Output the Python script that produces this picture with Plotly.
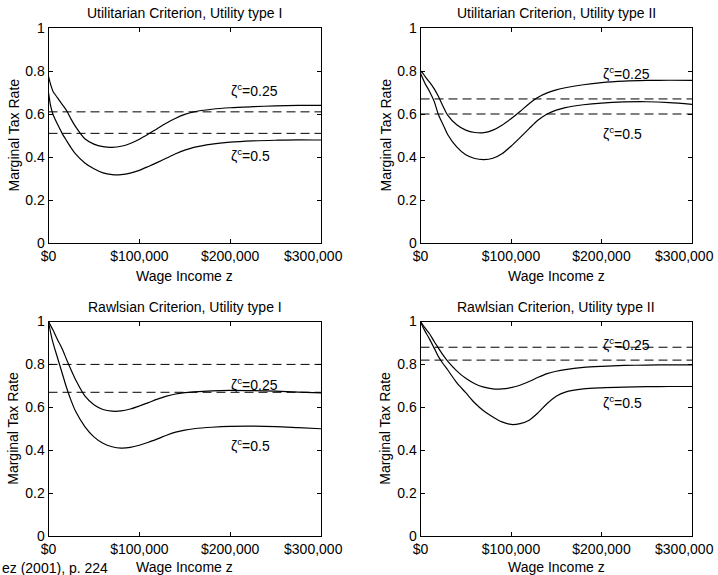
import plotly.graph_objects as go

# ---------------- data ----------------
income = [0, 2500, 5000, 10000, 15000, 20000, 25000, 30000, 40000, 50000, 60000,
          70000, 80000, 90000, 100000, 110000, 120000, 130000, 140000, 150000,
          160000, 180000, 200000, 225000, 250000, 275000, 300000]

util1_z025 = [0.775, 0.735, 0.705, 0.675, 0.645, 0.615, 0.575, 0.54, 0.485, 0.46, 0.448,
              0.445, 0.45, 0.463, 0.483, 0.507, 0.533, 0.558, 0.58, 0.598,
              0.61, 0.622, 0.629, 0.634, 0.638, 0.64, 0.64]
util1_z05 = [0.70, 0.635, 0.598, 0.552, 0.51, 0.475, 0.442, 0.413, 0.372, 0.345, 0.326,
             0.318, 0.318, 0.325, 0.338, 0.356, 0.375, 0.395, 0.415, 0.432,
             0.445, 0.46, 0.469, 0.475, 0.478, 0.48, 0.479]
util2_z025 = [0.80, 0.79, 0.775, 0.748, 0.718, 0.68, 0.635, 0.595, 0.55, 0.525, 0.514,
              0.513, 0.525, 0.548, 0.578, 0.612, 0.648, 0.678, 0.698, 0.712,
              0.722, 0.736, 0.746, 0.753, 0.756, 0.757, 0.756]
util2_z05 = [0.79, 0.765, 0.742, 0.705, 0.66, 0.595, 0.55, 0.505, 0.447, 0.41, 0.393,
             0.388, 0.394, 0.415, 0.45, 0.49, 0.532, 0.572, 0.6, 0.618,
             0.63, 0.643, 0.651, 0.656, 0.657, 0.653, 0.645]
rawl1_z025 = [1.0, 0.98, 0.96, 0.915, 0.873, 0.822, 0.773, 0.727, 0.653, 0.612, 0.59,
              0.582, 0.583, 0.592, 0.606, 0.622, 0.638, 0.652, 0.662, 0.668,
              0.672, 0.677, 0.679, 0.678, 0.675, 0.671, 0.667]
rawl1_z05 = [1.0, 0.945, 0.9, 0.83, 0.76, 0.69, 0.63, 0.58, 0.51, 0.462, 0.432,
             0.416, 0.41, 0.413, 0.423, 0.437, 0.453, 0.47, 0.484, 0.494,
             0.5, 0.507, 0.511, 0.512, 0.51, 0.505, 0.5]
rawl2_z025 = [1.0, 0.985, 0.97, 0.943, 0.908, 0.875, 0.843, 0.815, 0.77, 0.735, 0.71,
              0.694, 0.686, 0.686, 0.692, 0.703, 0.72, 0.74, 0.757, 0.768,
              0.776, 0.786, 0.791, 0.795, 0.797, 0.798, 0.798]
rawl2_z05 = [1.0, 0.975, 0.955, 0.918, 0.877, 0.835, 0.803, 0.775, 0.715, 0.668, 0.62,
             0.583, 0.555, 0.532, 0.52, 0.524, 0.54, 0.575, 0.618, 0.652,
             0.671, 0.686, 0.691, 0.694, 0.696, 0.697, 0.697]

# constant (flat) tax rates, dashed
flat_util1 = [0.61, 0.51]
flat_util2 = [0.67, 0.60]
flat_rawl1 = [0.80, 0.67]
flat_rawl2 = [0.88, 0.82]

titles = ["Utilitarian Criterion, Utility type I",
          "Utilitarian Criterion, Utility type II",
          "Rawlsian Criterion, Utility type I",
          "Rawlsian Criterion, Utility type II"]
curve_labels = ["ζ<sup>c</sup>=0.25", "ζ<sup>c</sup>=0.5"]
# label y-positions (upper label, lower label) per panel
label_y = [(0.712, 0.408), (0.79, 0.51), (0.708, 0.425), (0.894, 0.627)]
label_x = 199000

x_tickvals = [0, 100000, 200000, 300000]
x_ticktext = ["$0", "$100,000", "$200,000", "$300,000"]
y_tickvals = [0, 0.2, 0.4, 0.6, 0.8, 1]
y_ticktext = ["0", "0.2", "0.4", "0.6", "0.8", "1"]
x_title = "Wage Income z"
y_title = "Marginal Tax Rate"
source = "ez (2001), p. 224"

# ---------------- layout geometry ----------------
W, H = 718, 575
FONT = "Liberation Sans, Arial, Helvetica, sans-serif"
NB = "\u00a0"
# last x label is nudged left (as in the reference) by padding with non-breaking spaces
x_ticktext_shown = x_ticktext[:-1] + [x_ticktext[-1] + NB * 4]
px_boxes = [  # (left, right, top, bottom) in pixels
    (48.5, 321, 28, 243),
    (420.5, 692, 28, 243),
    (48.5, 321, 321.5, 536),
    (420.5, 692, 321.5, 536),
]

panels = [
    (util1_z025, util1_z05, flat_util1),
    (util2_z025, util2_z05, flat_util2),
    (rawl1_z025, rawl1_z05, flat_rawl1),
    (rawl2_z025, rawl2_z05, flat_rawl2),
]

fig = go.Figure()
annotations = []
layout_axes = {}

for i, ((up, lo, flats), box) in enumerate(zip(panels, px_boxes)):
    n = i + 1
    xa = "x" if n == 1 else f"x{n}"
    ya = "y" if n == 1 else f"y{n}"
    for f in flats:
        fig.add_trace(go.Scatter(x=[income[0], income[-1]], y=[f, f], xaxis=xa, yaxis=ya,
                                 mode="lines", line=dict(color="black", width=1, dash="9px,5px"),
                                 showlegend=False, hoverinfo="skip"))
    for s in (up, lo):
        fig.add_trace(go.Scatter(x=income, y=s, xaxis=xa, yaxis=ya, mode="lines",
                                 line=dict(color="black", width=1.2, shape="spline", smoothing=0.8),
                                 showlegend=False))
    l, r, t, b = box
    axis_common = dict(showline=True, linecolor="black", linewidth=1, mirror="ticks",
                       ticks="inside", ticklen=4, tickcolor="black", showgrid=False,
                       zeroline=False, automargin=False, ticklabeloverflow="allow",
                       tickfont=dict(family=FONT, size=14, color="black"))
    layout_axes["xaxis" if n == 1 else f"xaxis{n}"] = dict(
        domain=[l / W, r / W], anchor=ya, range=[0, 300000],
        tickvals=x_tickvals, ticktext=x_ticktext_shown, **axis_common)
    layout_axes["yaxis" if n == 1 else f"yaxis{n}"] = dict(
        domain=[1 - b / H, 1 - t / H], anchor=xa, range=[0, 1],
        tickvals=y_tickvals, ticktext=y_ticktext, **axis_common)

    cx = (l + r) / 2
    annotations.append(dict(text=titles[i], x=cx / W, y=1 - (t - 15) / H, xref="paper", yref="paper",
                            showarrow=False, xanchor="center", yanchor="middle",
                            font=dict(family=FONT, size=14, color="black")))
    xt_y = b + (33 if i < 2 else 31)
    annotations.append(dict(text=x_title, x=cx / W, y=1 - xt_y / H, xref="paper", yref="paper",
                            showarrow=False, xanchor="center", yanchor="middle",
                            font=dict(family=FONT, size=14, color="black")))
    annotations.append(dict(text=y_title, x=(l - 35.5) / W, y=1 - (t + b) / 2 / H,
                            xref="paper", yref="paper", textangle=-90,
                            showarrow=False, xanchor="center", yanchor="middle",
                            font=dict(family=FONT, size=14, color="black")))
    for lab, ly in zip(curve_labels, label_y[i]):
        annotations.append(dict(text=lab, x=label_x, y=ly, xref=xa, yref=ya,
                                showarrow=False, xanchor="left", yanchor="middle",
                                font=dict(family=FONT, size=14, color="black")))

annotations.append(dict(text=source, x=0, y=1 - 568 / H, xref="paper", yref="paper",
                        showarrow=False, xanchor="left", yanchor="middle",
                        font=dict(family=FONT, size=14, color="black")))

fig.update_layout(width=W, height=H, margin=dict(l=0, r=0, t=0, b=0, autoexpand=False),
                  paper_bgcolor="white", plot_bgcolor="white",
                  annotations=annotations, showlegend=False, **layout_axes)

fig.write_html("out.html", config={"displayModeBar": False},
               post_script="document.body.style.margin='0';document.body.style.overflow='hidden';")
